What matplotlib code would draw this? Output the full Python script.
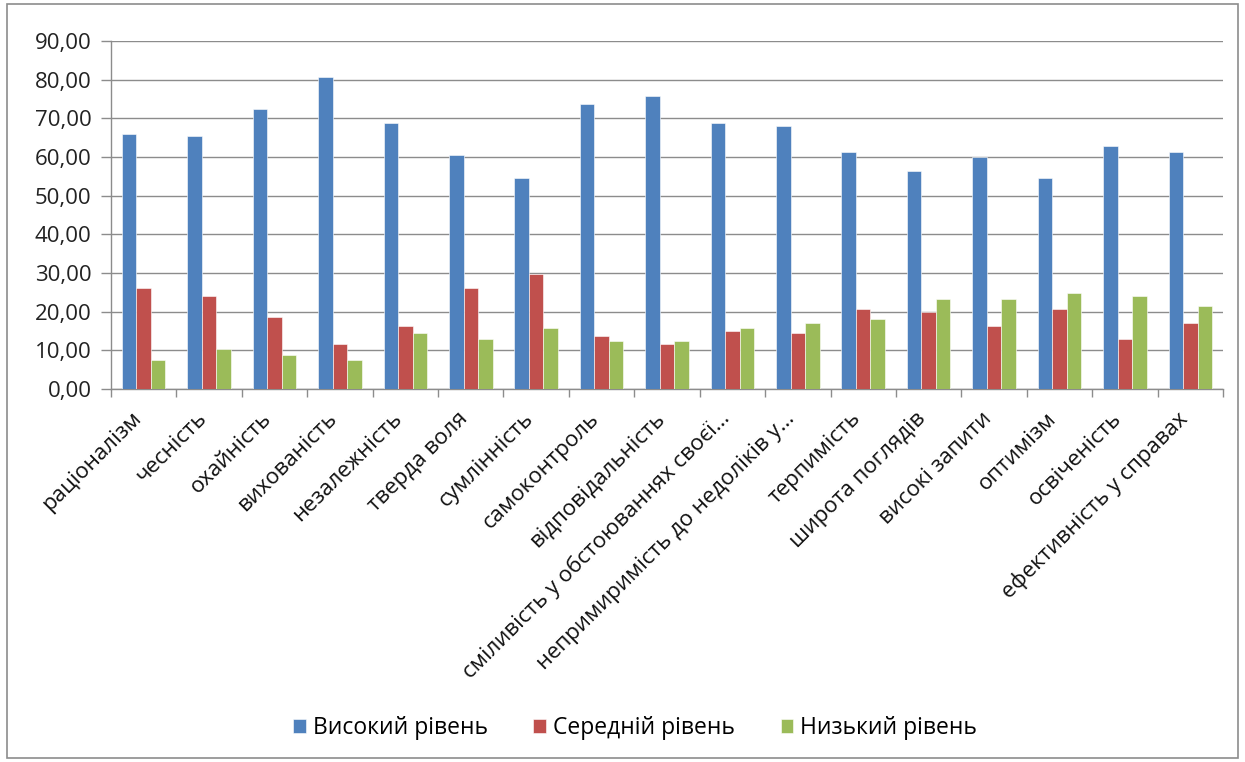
import matplotlib
matplotlib.use("Agg")
import matplotlib.pyplot as plt
import matplotlib.transforms as mtransforms
import numpy as np
from matplotlib.patches import Rectangle

categories = ["раціоналізм", "чесність", "охайність", "вихованість", "незалежність",
              "тверда воля", "сумлінність", "самоконтроль", "відповідальність",
              "сміливість у обстоюваннях своєї…", "непримиримість до недоліків у…",
              "терпимість", "широта поглядів", "високі запити", "оптимізм",
              "освіченість", "ефективність у справах"]
high = [66.0, 65.5, 72.5, 80.7, 68.8, 60.5, 54.5, 73.8, 75.8, 68.8, 68.1,
        61.4, 56.5, 60.0, 54.5, 62.8, 61.4]
medium = [26.0, 24.0, 18.7, 11.7, 16.4, 26.0, 29.7, 13.7, 11.7, 15.0, 14.4,
          20.7, 20.0, 16.4, 20.7, 13.0, 17.0]
low = [7.4, 10.3, 8.7, 7.4, 14.4, 13.0, 15.7, 12.3, 12.3, 15.7, 17.0,
       18.0, 23.4, 23.4, 24.7, 24.0, 21.4]
series_names = ["Високий рівень", "Середній рівень", "Низький рівень"]
colors = ["#4F81BD", "#C0504D", "#9BBB59"]
yticks = [0, 10, 20, 30, 40, 50, 60, 70, 80, 90]

plt.rcParams['font.family'] = ['Open Sans', 'DejaVu Sans']

fig = plt.figure(figsize=(12.45, 7.62), dpi=100)
ax = fig.add_axes([111/1245, 1 - 389/762, (1223-111)/1245, (389-41)/762])

x = np.arange(len(categories))
w = 0.222
for i, (vals, c, name) in enumerate(zip([high, medium, low], colors, series_names)):
    ax.bar(x + (i - 1) * w, vals, width=w, color=c, label=name, zorder=3,
           edgecolor='white', linewidth=0.4)

ax.set_xlim(-0.5, len(categories) - 0.5)
ax.set_ylim(0, 90)
ax.set_yticks(yticks)
ax.set_yticklabels([f"{v:.2f}".replace('.', ',') for v in yticks], fontsize=16, color='#222222')
ax.yaxis.grid(True, color='#8c8c8c', linewidth=1.0, zorder=0)
ax.set_axisbelow(True)

ax.set_xticks(x)
ax.set_xticklabels(categories, rotation=45, ha='right', va='center',
                   rotation_mode='anchor', fontsize=16, color='#111111')
ax.tick_params(axis='x', which='major', length=0, pad=19)
shift = mtransforms.ScaledTranslation(-6/100, 0, fig.dpi_scale_trans)
for lbl in ax.get_xticklabels():
    lbl.set_transform(lbl.get_transform() + shift)
ax.set_xticks(np.arange(-0.5, len(categories)), minor=True)
ax.tick_params(axis='x', which='minor', length=6, color='#8c8c8c', width=1)
ax.tick_params(axis='y', length=7, color='#8c8c8c', width=1, pad=7)

for s in ['top', 'right']:
    ax.spines[s].set_visible(False)
ax.spines['left'].set_color('#8c8c8c')
ax.spines['bottom'].set_color('#8c8c8c')
ax.spines['left'].set_linewidth(1)
ax.spines['bottom'].set_linewidth(1)

fig.legend(loc='center', bbox_to_anchor=(635/1245, 1 - 728/762), ncol=3,
           frameon=False, fontsize=16.5, handlelength=0.55, handleheight=0.55,
           handletextpad=0.3, columnspacing=2.0)

fig.patches.append(Rectangle((7/1245, 4/762), 1 - 14/1245, 1 - 8/762,
                             transform=fig.transFigure, fill=False,
                             edgecolor='#8c8c8c', linewidth=1.2))

fig.savefig("out.png", dpi=100)
